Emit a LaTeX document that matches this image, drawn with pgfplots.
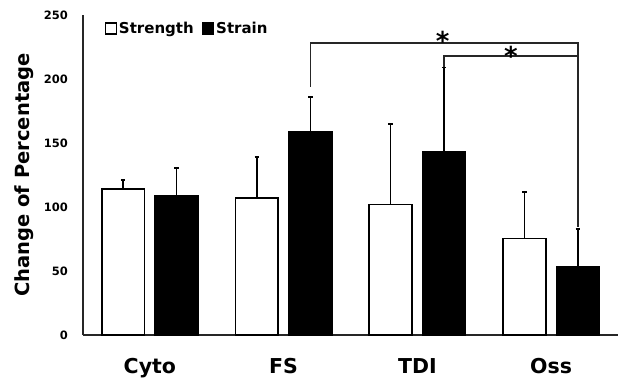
\documentclass[border=0pt]{standalone}
\usepackage{fontspec}
\setmainfont{DejaVu Sans}
\usepackage{pgfplots}
\pgfplotsset{compat=1.18}
\begin{document}
\begin{tikzpicture}
\begin{axis}[
  scale only axis,
  width=535pt, height=320pt,
  xmin=-0.5, xmax=3.5,
  ymin=0, ymax=250,
  axis lines*=left,
  axis line style={-, line width=1.4pt, black!85},
  xtick={0,1,2,3},
  xticklabels={Cyto,FS,TDI,Oss},
  ytick={0,50,100,150,200,250},
  tick style={draw=none},
  /pgf/number format/assume math mode=true,
  yticklabel style={font=\fontsize{11.5}{11.5}\selectfont\bfseries, anchor=east, inner sep=0pt, xshift=-15pt},
  xticklabel style={font=\fontsize{20.5}{20.5}\selectfont\bfseries, anchor=north, inner sep=0pt, yshift=-19pt},
  ylabel={Change of Percentage},
  ylabel shift=7pt,
  ylabel style={font=\fontsize{19.5}{19.5}\selectfont\bfseries},
  clip=false,
  ybar,
  bar width=0.32,
  legend style={at={(0.04,0.985)}, anchor=north west, draw=none, fill=none,
    legend columns=2, font=\fontsize{15}{15}\selectfont\bfseries,
    /tikz/every even column/.append style={column sep=6pt},
    inner sep=0pt},
  legend image code/.code={\draw[#1, line width=1.4pt] (0pt,-5.5pt) rectangle (11pt,5.5pt);},
  error bars/error bar style={line width=1.5pt, black},
  error bars/error mark options={rotate=90, black, mark size=2.2pt, line width=1.8pt},
]
\addplot[bar shift=-0.2, fill=white, draw=black, line width=1.6pt,
  error bars/.cd, y dir=plus, y explicit]
  coordinates {(0,114) +- (0,7) (1,107) +- (0,32) (2,102) +- (0,63) (3,75.5) +- (0,36.5)};
\addlegendentry{Strength}
\addplot[bar shift=0.2, fill=black, draw=black, line width=1.6pt,
  error bars/.cd, y dir=plus, y explicit]
  coordinates {(0,108.5) +- (0,22) (1,159) +- (0,27) (2,143) +- (0,66) (3,53) +- (0,30)};
\addlegendentry{Strain}
\draw[line width=1.4pt, black!85] (axis cs:1.2,194) -- (axis cs:1.2,228) -- (axis cs:3.2,228) -- (axis cs:3.2,84);
\draw[line width=1.4pt, black!85] (axis cs:2.2,209) -- (axis cs:2.2,218) -- (axis cs:3.2,218);
\node[anchor=north, inner sep=0pt, font=\fontsize{26}{26}\selectfont\bfseries] at (axis cs:2.19,237.5) {*};
\node[anchor=north, inner sep=0pt, font=\fontsize{26}{26}\selectfont\bfseries] at (axis cs:2.70,226) {*};
\end{axis}
\pgfresetboundingbox
\path[use as bounding box] (-83pt,-45pt) rectangle (535pt,335pt);
\end{tikzpicture}
\end{document}
